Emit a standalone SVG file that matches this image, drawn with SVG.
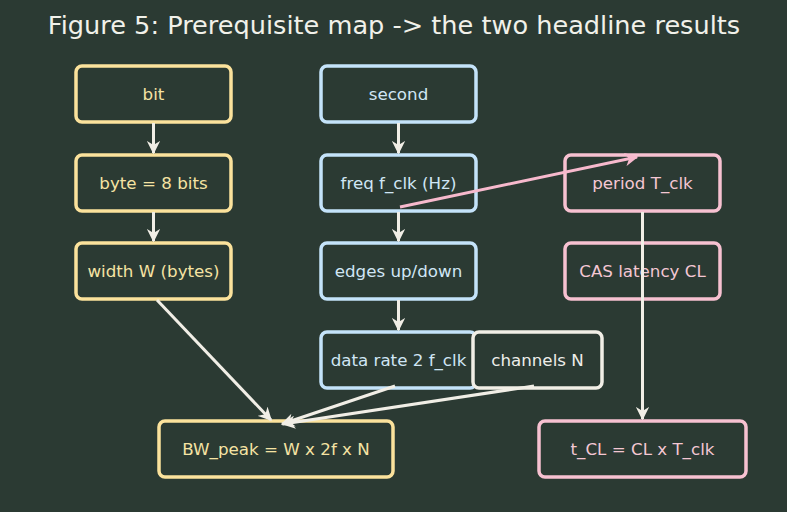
<svg xmlns="http://www.w3.org/2000/svg" width="787" height="512" viewBox="0 0 787 512">
<style>
.bg{fill:#2b3a33}
.n rect{fill:#2b3a33;stroke-width:3.5}
.n text{font-family:"DejaVu Sans",sans-serif;font-size:16.7px;text-anchor:middle;dominant-baseline:central}
.y rect{stroke:#fbe29c}.y text{fill:#f5e3a3}
.b rect{stroke:#c4e3fa}.b text{fill:#d0e6f5}
.p rect{stroke:#f7c1d1}.p text{fill:#f4c7d3}
.w rect{stroke:#f1eee6}.w text{fill:#eeeeea}
.e{fill:none;stroke:#f1eee6;stroke-width:3;marker-end:url(#aw)}
.ep{fill:none;stroke:#f7b9cd;stroke-width:3;marker-end:url(#ap)}
.title{font-family:"DejaVu Sans",sans-serif;font-size:25.6px;fill:#f1f1ea;text-anchor:middle}
</style>
<defs>
<marker id="aw" viewBox="0 0 10 10" refX="9" refY="5" markerWidth="4.5" markerHeight="4.5" orient="auto" markerUnits="strokeWidth"><path d="M0,0 L10,5 L0,10 L3,5 z" fill="#f1eee6"/></marker>
<marker id="ap" viewBox="0 0 10 10" refX="9" refY="5" markerWidth="4.5" markerHeight="4.5" orient="auto" markerUnits="strokeWidth"><path d="M0,0 L10,5 L0,10 L3,5 z" fill="#f7b9cd"/></marker>
</defs>
<rect class="bg" width="787" height="512"/>
<text class="title" x="394" y="34">Figure 5: Prerequisite map -&gt; the two headline results</text>
<g id="nodes">
<g id="bit" class="n y"><rect x="76" y="66" width="155" height="56" rx="6"/><text x="153.5" y="94">bit</text></g>
<g id="byte" class="n y"><rect x="76" y="155" width="155" height="56" rx="6"/><text x="153.5" y="183">byte = 8 bits</text></g>
<g id="width" class="n y"><rect x="76" y="243" width="155" height="56" rx="6"/><text x="153.5" y="271">width W (bytes)</text></g>
<g id="second" class="n b"><rect x="321" y="66" width="155" height="56" rx="6"/><text x="398.5" y="94">second</text></g>
<g id="freq" class="n b"><rect x="321" y="155" width="155" height="56" rx="6"/><text x="398.5" y="183">freq f_clk (Hz)</text></g>
<g id="edges" class="n b"><rect x="321" y="243" width="155" height="56" rx="6"/><text x="398.5" y="271">edges up/down</text></g>
<g id="datarate" class="n b"><rect x="321" y="332" width="155" height="56" rx="6"/><text x="398.5" y="360">data rate 2 f_clk</text></g>
<g id="channels" class="n w"><rect x="473" y="332" width="129" height="56" rx="6"/><text x="537.5" y="360">channels N</text></g>
<g id="period" class="n p"><rect x="565" y="155" width="155" height="56" rx="6"/><text x="642.5" y="183">period T_clk</text></g>
<g id="cas" class="n p"><rect x="565" y="243" width="155" height="56" rx="6"/><text x="642.5" y="271">CAS latency CL</text></g>
<g id="bw" class="n y"><rect x="159" y="421" width="234" height="56" rx="6"/><text x="276" y="449">BW_peak = W x 2f x N</text></g>
<g id="tcl" class="n p"><rect x="539" y="421" width="207" height="56" rx="6"/><text x="642.5" y="449">t_CL = CL x T_clk</text></g>
</g>
<g id="connectors">
<line class="e" x1="153.5" y1="123" x2="153.5" y2="153"/>
<line class="e" x1="153.5" y1="212" x2="153.5" y2="241"/>
<line class="e" x1="398.5" y1="123" x2="398.5" y2="153"/>
<line class="e" x1="398.5" y1="212" x2="398.5" y2="241"/>
<line class="e" x1="398.5" y1="300" x2="398.5" y2="330"/>
<line class="e" x1="642.5" y1="212" x2="642.5" y2="419"/>
<line class="e" x1="157" y1="300" x2="271" y2="420"/>
<line class="e" x1="395" y1="386" x2="282" y2="424"/>
<line class="e" x1="534" y1="386" x2="283" y2="424"/>
<line class="ep" x1="400" y1="207" x2="637" y2="157"/>
</g>
</svg>
